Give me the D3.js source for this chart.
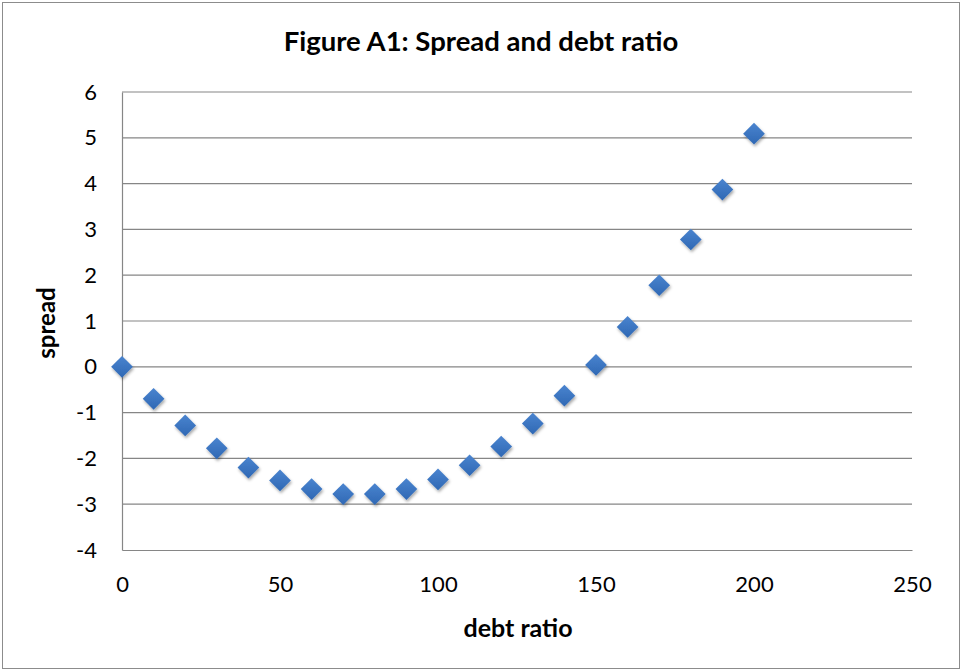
<!DOCTYPE html>
<html><head><meta charset="utf-8">
<script src="https://cdn.jsdelivr.net/npm/d3@7"></script>
<style>body{margin:0;background:#fff}svg{display:block}</style>
</head><body>
<svg id="chart" width="963" height="672"></svg>
<script>
const debtRatio = [0,10,20,30,40,50,60,70,80,90,100,110,120,130,140,150,160,170,180,190,200];
const spread = [0,-0.7,-1.28,-1.78,-2.2,-2.48,-2.67,-2.78,-2.78,-2.67,-2.46,-2.15,-1.74,-1.24,-0.63,0.04,0.87,1.78,2.78,3.87,5.09];
const xTicks = [0,50,100,150,200,250];
const yTicks = [-4,-3,-2,-1,0,1,2,3,4,5,6];
const title = "Figure A1: Spread and debt ratio";
const xTitle = "debt ratio";
const yTitle = "spread";

const svg = d3.select("#chart");
const font = "Lato, 'Open Sans', sans-serif";
const L = 122, R = 912, T = 92, B = 550;
const x = d3.scaleLinear().domain([0,250]).range([L,R]);
const y = d3.scaleLinear().domain([-4,6]).range([B,T]);

svg.append("rect").attr("x",2.5).attr("y",2.5).attr("width",957).attr("height",666)
  .attr("fill","#fff").attr("stroke","#8c8c8c").attr("stroke-width",1);

const defs = svg.append("defs");
const f = defs.append("filter").attr("id","sh").attr("x","-50%").attr("y","-50%").attr("width","200%").attr("height","200%");
f.append("feDropShadow").attr("dx",1).attr("dy",2).attr("stdDeviation",1.5).attr("flood-color","#000").attr("flood-opacity",0.35);
const g1 = defs.append("linearGradient").attr("id","mg").attr("x1",0).attr("y1",0).attr("x2",0).attr("y2",1);
g1.append("stop").attr("offset","0%").attr("stop-color","#4a84cf");
g1.append("stop").attr("offset","100%").attr("stop-color","#2f68b4");

// gridlines
svg.append("g").selectAll("line").data(yTicks.filter(d=>d>-4)).join("line")
  .attr("x1",L).attr("x2",R).attr("y1",d=>y(d)).attr("y2",d=>y(d))
  .attr("stroke","#868686").attr("stroke-width",1.2);

// axes
const fmt = d => String(d);
const yAxis = d3.axisLeft(y).tickValues(yTicks).tickSize(0).tickPadding(25).tickFormat(fmt);
const ga = svg.append("g").attr("transform",`translate(${L},0)`).call(yAxis);
ga.select(".domain").attr("stroke","#868686").attr("stroke-width",1.2);
ga.selectAll("text").attr("font-family",font).attr("font-size",22).attr("fill","#000");

const xAxis = d3.axisBottom(x).tickValues(xTicks).tickSize(0).tickPadding(26).tickFormat(fmt);
const gx = svg.append("g").attr("transform",`translate(0,${B})`).call(xAxis);
gx.select(".domain").attr("stroke","#868686").attr("stroke-width",1.2);
gx.selectAll("text").attr("font-family",font).attr("font-size",22).attr("fill","#000");

// points
const sym = d3.symbol().type(d3.symbolDiamond2).size(300);
svg.append("g").selectAll("path").data(debtRatio.map((d,i)=>[d,spread[i]])).join("path")
  .attr("d",sym).attr("transform",d=>`translate(${x(d[0])},${y(d[1])})`)
  .attr("fill","url(#mg)").attr("filter","url(#sh)");

// titles
svg.append("text").attr("x",481).attr("y",51).attr("text-anchor","middle")
  .attr("font-family",font).attr("font-weight","bold").attr("font-size",27.5).text(title);
svg.append("text").attr("x",518).attr("y",637).attr("text-anchor","middle")
  .attr("font-family",font).attr("font-weight","bold").attr("font-size",25).text(xTitle);
svg.append("text").attr("transform","translate(55,323) rotate(-90)").attr("text-anchor","middle")
  .attr("font-family",font).attr("font-weight","bold").attr("font-size",24).text(yTitle);
</script>
</body></html>
